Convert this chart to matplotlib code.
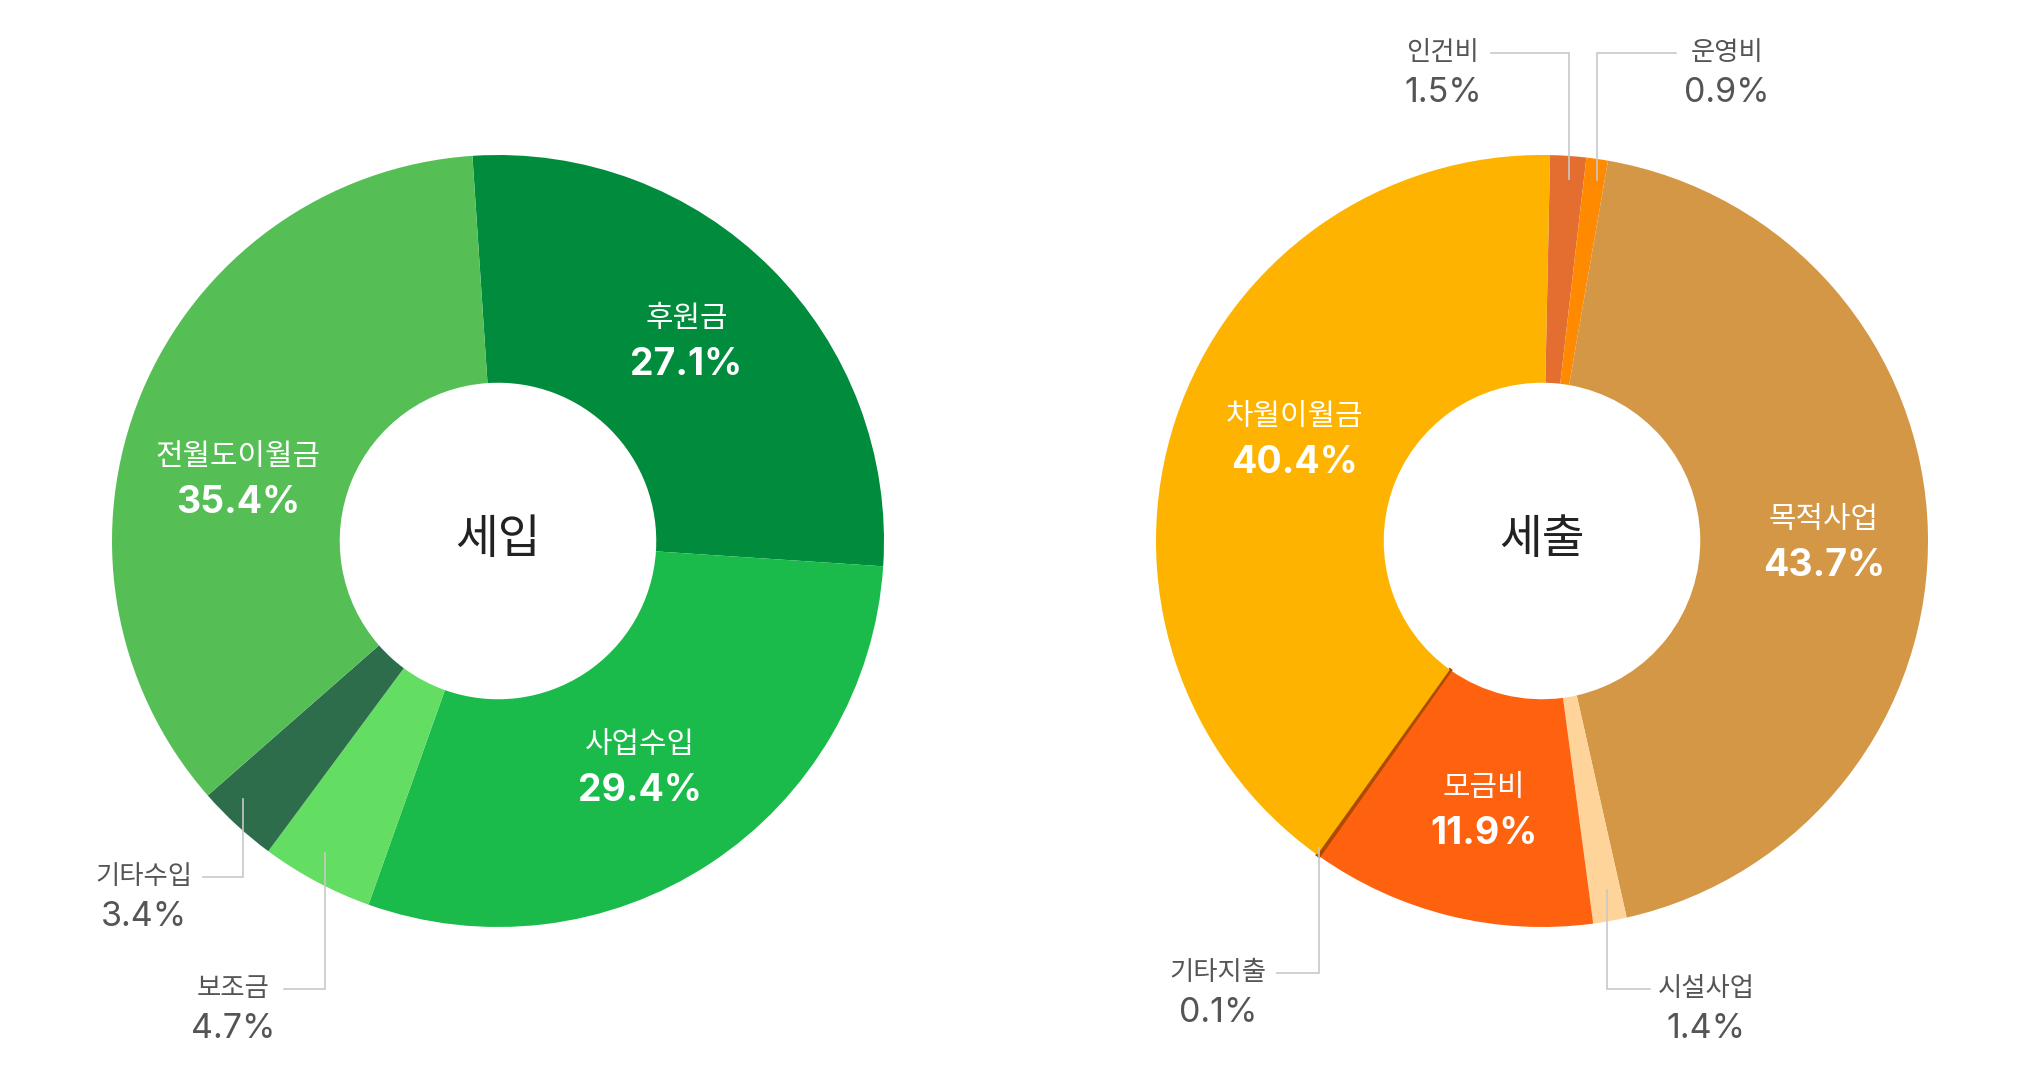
import numpy as np
import matplotlib
matplotlib.use('Agg')
import matplotlib.pyplot as plt

plt.rcParams['font.family'] = ['Inter', 'Noto Sans CJK KR', 'DejaVu Sans']

# ---------------- data ----------------
income_labels = ['후원금', '사업수입', '보조금', '기타수입', '전월도이월금']
income_values = [27.1, 29.4, 4.7, 3.4, 35.4]
income_colors = ['#008C3C', '#1ABB4A', '#64DD63', '#2E6D4B', '#55BF55']

expense_labels = ['인건비', '운영비', '목적사업', '시설사업', '모금비', '기타지출', '차월이월금']
expense_values = [1.5, 0.9, 43.7, 1.4, 11.9, 0.1, 40.4]
expense_colors = ['#E36E30', '#FF8A00', '#D49746', '#FFD49A', '#FF620E', '#AE4A00', '#FDB300']

titles = ['세입', '세출']

# ---------------- layout (pixels, origin top-left) ----------------
W, H = 2040, 1080
R = 386
HOLE = 0.41
centers_px = [(498, 541), (1542, 541)]
start_angles = [93.8, 88.8]

# inside labels: name -> (angle nudge deg, radius fraction)
inside_layout = {
    '후원금': (-1.7, 0.712), '사업수입': (1.16, 0.691), '전월도이월금': (-9.1, 0.692),
    '목적사업': (1.6, 0.73), '모금비': (-1.6, 0.713), '차월이월금': (3.9, 0.694),
}
# outside labels: name -> (angle nudge, start radius frac, elbow y, line end x, text x)
outside_layout = {
    '기타수입': (2.0, 0.94, 877, 203, 144),
    '보조금': (1.0, 0.925, 989, 284, 233),
    '인건비': (0.4, 0.94, 53, 1491, 1443),
    '운영비': (0.5, 0.946, 53, 1676, 1727),
    '시설사업': (-0.4, 0.92, 989, 1650, 1706),
    '기타지출': (0.55, 0.983, 973, 1277, 1218),
}
PCT_DY = 40

fig = plt.figure(figsize=(W / 100, H / 100), dpi=100)
ax = fig.add_axes([0, 0, 1, 1])

def Y(y):
    return H - y

for (labels, values, colors, title, (cx, cy), sa) in [
        (income_labels, income_values, income_colors, titles[0], centers_px[0], start_angles[0]),
        (expense_labels, expense_values, expense_colors, titles[1], centers_px[1], start_angles[1])]:
    wedges, _ = ax.pie(values, colors=colors, startangle=sa, counterclock=False,
                       center=(cx, Y(cy)), radius=R,
                       wedgeprops=dict(width=R * (1 - HOLE), linewidth=0, antialiased=True))
    for w, v, c in zip(wedges, values, colors):
        if v < 0.5:   # make hair-thin slices visible, as in the source
            w.set_edgecolor(c)
            w.set_linewidth(2.2)
    ax.text(cx, Y(cy), title, ha='center', va='center', fontsize=33.5,
            color='#222222', fontweight='medium')
    total = float(np.sum(values))
    cum = 0.0
    for lab, v in zip(labels, values):
        mid_cw = (90 - sa) + (cum + v / 2) / total * 360
        cum += v
        if lab in inside_layout:
            nud, rf = inside_layout[lab]
            a = np.deg2rad(mid_cw + nud)
            x = cx + rf * R * np.sin(a)
            y = cy - rf * R * np.cos(a) + 1
            ax.text(x, Y(y - 23), lab, ha='center', va='center', fontsize=21.5,
                    color='white', fontweight='medium')
            ax.text(x, Y(y + 23), f'{v:.1f}%', ha='center', va='center', fontsize=27,
                    color='white', fontweight='bold')
        elif lab in outside_layout:
            nud, rf, ey, ex, tx = outside_layout[lab]
            a = np.deg2rad(mid_cw + nud)
            sx = cx + rf * R * np.sin(a)
            sy = cy - rf * R * np.cos(a)
            ax.plot([sx, sx, ex], [Y(sy), Y(ey), Y(ey)], color='#C8C8C8',
                    lw=1.2, solid_joinstyle='miter', zorder=5)
            ax.text(tx, Y(ey), lab, ha='center', va='center', fontsize=19,
                    color='#555555', fontweight='medium')
            ax.text(tx, Y(ey + PCT_DY), f'{v:.1f}%', ha='center', va='center',
                    fontsize=24.5, color='#555555')

ax.set_xlim(0, W)
ax.set_ylim(0, H)
ax.set_aspect('equal', adjustable='box')
ax.set_axis_off()
fig.savefig('out.png', dpi=100, facecolor='white')
